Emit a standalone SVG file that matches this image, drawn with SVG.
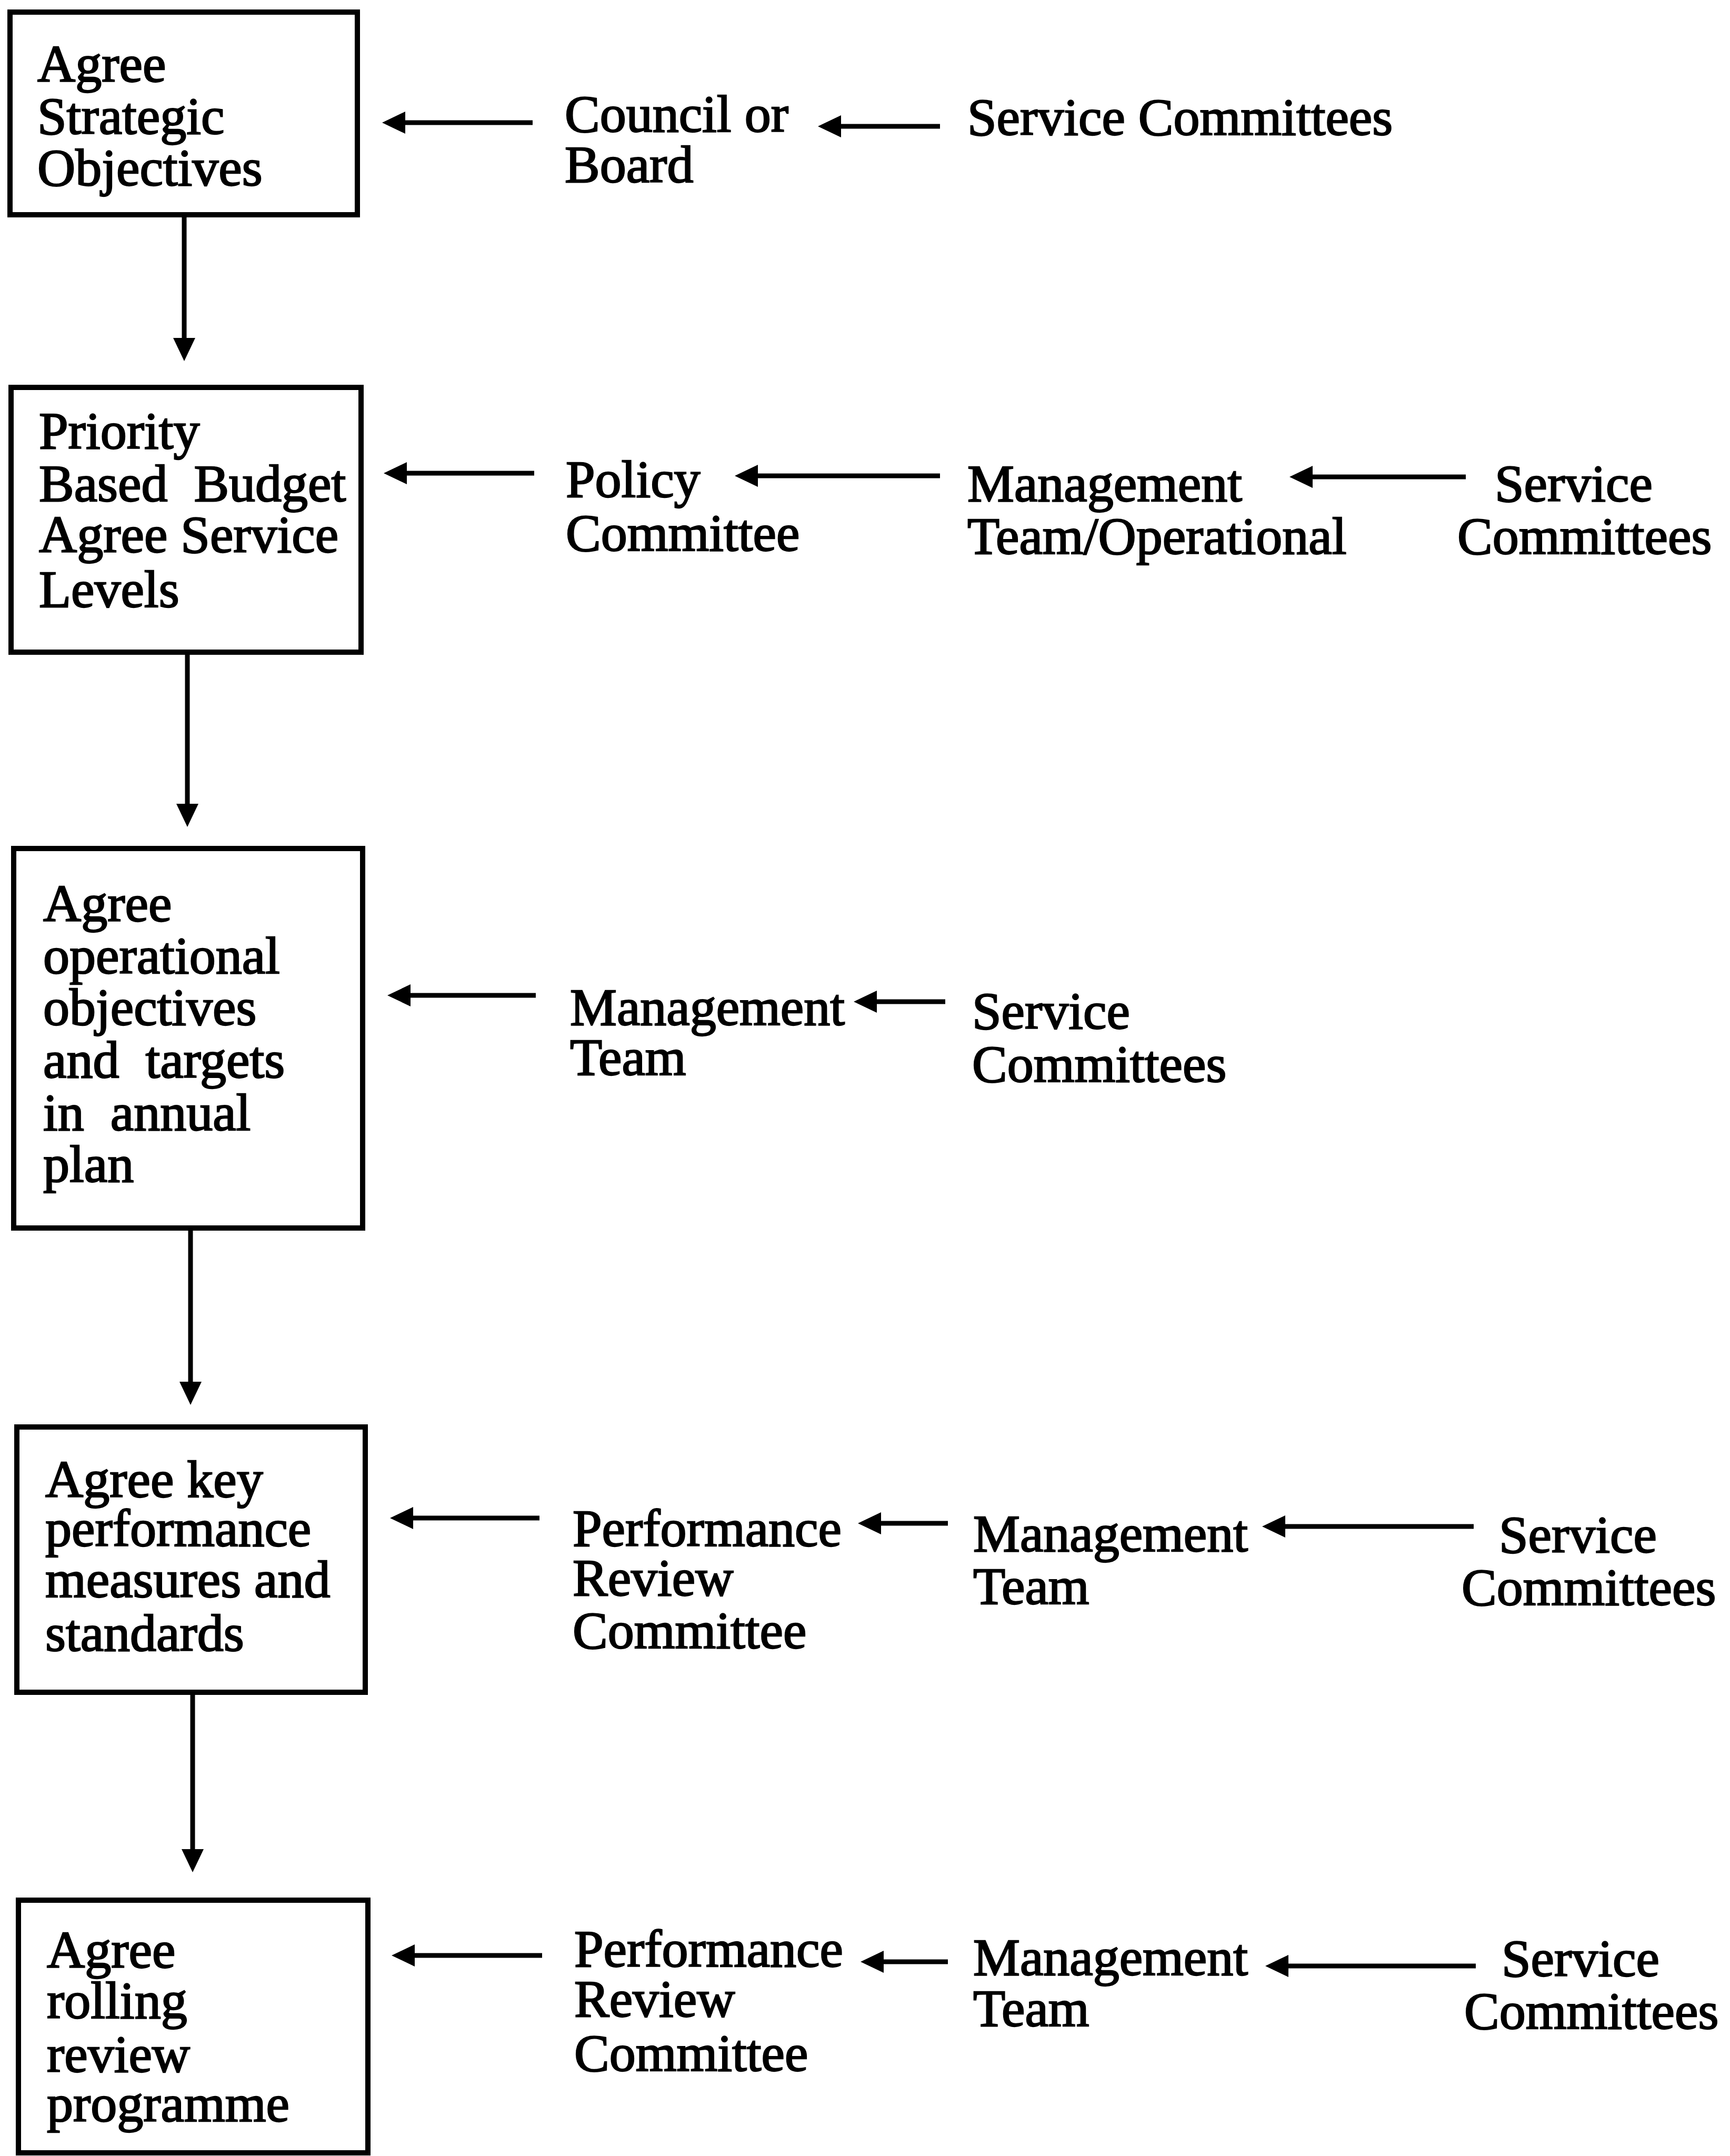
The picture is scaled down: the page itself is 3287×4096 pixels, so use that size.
<svg xmlns="http://www.w3.org/2000/svg" width="3287" height="4096" viewBox="0 0 3287 4096">
  <style>
    .box { fill: #fff; stroke: #000; stroke-width: 10; }
    .lbl { font-family: "Liberation Serif", "Times New Roman", serif; font-size: 100px; fill: #000; stroke: #000; stroke-width: 2.4; }
    .wire { fill: none; stroke: #000; stroke-width: 9; marker-end: url(#head); }
  </style>
  <defs>
    <!-- filled arrowhead; tip sits 22px past the path end -->
    <marker id="head" markerUnits="userSpaceOnUse" viewBox="-48 -24 50 48" refX="-22" refY="0" markerWidth="50" markerHeight="48" orient="auto">
      <path d="M0,0 L-44,-21 L-44,21 Z" fill="#000"/>
    </marker>
  </defs>
  <rect width="3287" height="4096" fill="#fff"/>

  <!-- left column: process steps -->
  <g id="step-strategic">
    <rect class="box" x="19" y="23" width="660" height="385"/>
    <text class="lbl" x="71" y="155">Agree</text>
    <text class="lbl" x="71" y="254">Strategic</text>
    <text class="lbl" x="71" y="352">Objectives</text>
  </g>
  <g id="step-budget">
    <rect class="box" x="21" y="736" width="665" height="503"/>
    <text class="lbl" x="74" y="852">Priority</text>
    <text class="lbl" x="74" y="952" xml:space="preserve">Based  Budget</text>
    <text class="lbl" x="74" y="1049">Agree Service</text>
    <text class="lbl" x="74" y="1153">Levels</text>
  </g>
  <g id="step-operational">
    <rect class="box" x="26" y="1612" width="663" height="721"/>
    <text class="lbl" x="82" y="1750">Agree</text>
    <text class="lbl" x="82" y="1849">operational</text>
    <text class="lbl" x="82" y="1947">objectives</text>
    <text class="lbl" x="82" y="2047" xml:space="preserve">and  targets</text>
    <text class="lbl" x="82" y="2147" xml:space="preserve">in  annual</text>
    <text class="lbl" x="82" y="2245">plan</text>
  </g>
  <g id="step-measures">
    <rect class="box" x="32" y="2711" width="662" height="504"/>
    <text class="lbl" x="86" y="2844">Agree key</text>
    <text class="lbl" x="86" y="2937">performance</text>
    <text class="lbl" x="86" y="3034">measures and</text>
    <text class="lbl" x="86" y="3136">standards</text>
  </g>
  <g id="step-review">
    <rect class="box" x="35" y="3610" width="664" height="480"/>
    <text class="lbl" x="89" y="3738">Agree</text>
    <text class="lbl" x="89" y="3834">rolling</text>
    <text class="lbl" x="89" y="3936">review</text>
    <text class="lbl" x="89" y="4030">programme</text>
  </g>

  <!-- row 1 bodies -->
  <g id="council-board">
    <text class="lbl" x="1073" y="250">Council or</text>
    <text class="lbl" x="1073" y="346">Board</text>
  </g>
  <g id="service-committees-1">
    <text class="lbl" x="1838" y="256">Service Committees</text>
  </g>

  <!-- row 2 bodies -->
  <g id="policy-committee">
    <text class="lbl" x="1075" y="944">Policy</text>
    <text class="lbl" x="1075" y="1046">Committee</text>
  </g>
  <g id="management-operational">
    <text class="lbl" x="1838" y="952">Management</text>
    <text class="lbl" x="1838" y="1052">Team/Operational</text>
  </g>
  <g id="service-committees-2">
    <text class="lbl" x="2840" y="952">Service</text>
    <text class="lbl" x="2769" y="1052">Committees</text>
  </g>

  <!-- row 3 bodies -->
  <g id="management-team-3">
    <text class="lbl" x="1083" y="1947">Management</text>
    <text class="lbl" x="1083" y="2042">Team</text>
  </g>
  <g id="service-committees-3">
    <text class="lbl" x="1847" y="1954">Service</text>
    <text class="lbl" x="1847" y="2055">Committees</text>
  </g>

  <!-- row 4 bodies -->
  <g id="performance-review-4">
    <text class="lbl" x="1088" y="2937">Performance</text>
    <text class="lbl" x="1088" y="3031">Review</text>
    <text class="lbl" x="1088" y="3131">Committee</text>
  </g>
  <g id="management-team-4">
    <text class="lbl" x="1849" y="2947">Management</text>
    <text class="lbl" x="1849" y="3047">Team</text>
  </g>
  <g id="service-committees-4">
    <text class="lbl" x="2848" y="2949">Service</text>
    <text class="lbl" x="2777" y="3049">Committees</text>
  </g>

  <!-- row 5 bodies -->
  <g id="performance-review-5">
    <text class="lbl" x="1091" y="3736">Performance</text>
    <text class="lbl" x="1091" y="3831">Review</text>
    <text class="lbl" x="1091" y="3934">Committee</text>
  </g>
  <g id="management-team-5">
    <text class="lbl" x="1849" y="3752">Management</text>
    <text class="lbl" x="1849" y="3849">Team</text>
  </g>
  <g id="service-committees-5">
    <text class="lbl" x="2853" y="3754">Service</text>
    <text class="lbl" x="2782" y="3854">Committees</text>
  </g>

  <!-- connectors -->
  <g id="connectors">
    <!-- down the step column -->
    <path class="wire" d="M350,408 L350,664"/>
    <path class="wire" d="M356,1239 L356,1549"/>
    <path class="wire" d="M362,2333 L362,2647"/>
    <path class="wire" d="M366,3215 L366,3535"/>
    <!-- row 1 -->
    <path class="wire" d="M1012,233 L748,233"/>
    <path class="wire" d="M1786,240 L1576,240"/>
    <!-- row 2 -->
    <path class="wire" d="M1015,899 L751,899"/>
    <path class="wire" d="M1786,904 L1418,904"/>
    <path class="wire" d="M2785,906 L2472,906"/>
    <!-- row 3 -->
    <path class="wire" d="M1018,1891 L758,1891"/>
    <path class="wire" d="M1796,1903 L1644,1903"/>
    <!-- row 4 -->
    <path class="wire" d="M1025,2884 L763,2884"/>
    <path class="wire" d="M1801,2894 L1652,2894"/>
    <path class="wire" d="M2800,2900 L2420,2900"/>
    <!-- row 5 -->
    <path class="wire" d="M1030,3715 L766,3715"/>
    <path class="wire" d="M1801,3727 L1657,3727"/>
    <path class="wire" d="M2804,3735 L2426,3735"/>
  </g>
</svg>
